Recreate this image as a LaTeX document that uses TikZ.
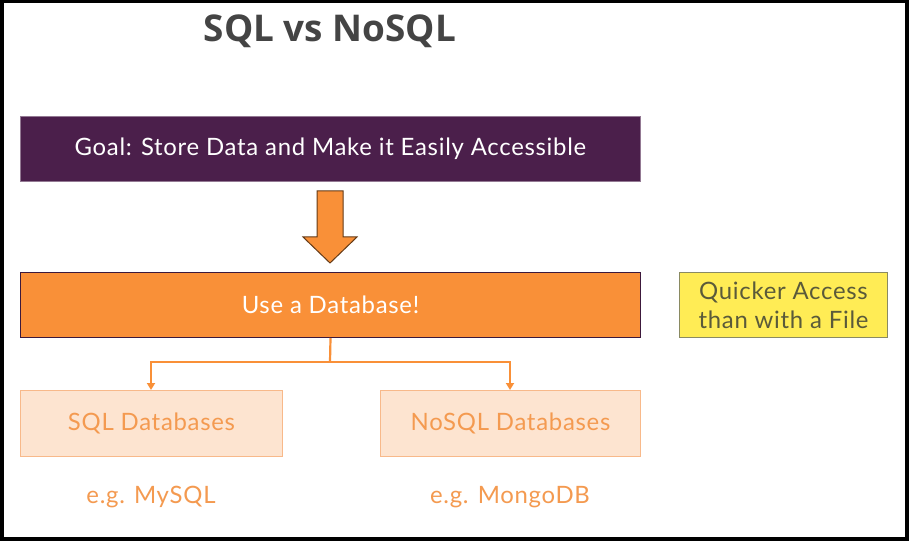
\documentclass[tikz,border=0pt]{standalone}
\usepackage{fontspec}
\usetikzlibrary{arrows.meta}
\setmainfont{Lato}[LetterSpace=3]
\newfontfamily\titlefont{Open Sans}
\definecolor{purp}{HTML}{4B1F4B}
\definecolor{orng}{HTML}{F99038}
\definecolor{lightfill}{HTML}{FDE4D0}
\definecolor{lightdraw}{HTML}{F8B98A}
\definecolor{lighttext}{HTML}{F49A50}
\definecolor{yel}{HTML}{FFEC55}
\definecolor{yeldraw}{HTML}{8A8A62}
\definecolor{yeltext}{HTML}{5A5A3A}
\definecolor{titlegray}{HTML}{444444}
\begin{document}
\begin{tikzpicture}[x=1bp,y=-1bp,
  box/.style={minimum width=#1, minimum height=65bp, inner sep=0pt, anchor=north west, font=\fontsize{24}{28}\selectfont},
  conn/.style={draw=orng, line width=2.2bp},
]
\useasboundingbox (0,0) rectangle (909,541);
\fill[black] (0,0) rectangle (909,541);
\fill[white] (3.5,3.5) rectangle (905,537);
\node[font=\titlefont\bfseries\fontsize{37}{42}\selectfont, text=titlegray] (title) at (330,31) {SQL vs NoSQL};
\node[box=620bp, fill=purp, draw=purp!60!white, line width=0.8bp, text=white] (goal) at (20,116) {Goal: Store Data and Make it Easily Accessible};
\node[box=620bp, fill=orng, draw=purp!80!black, line width=1bp, text=white] (db) at (20,272) {Use a Database!};
\node[box=208bp, fill=yel, draw=yeldraw, line width=1bp, text=yeltext, align=center, font=\fontsize{24}{29}\selectfont] (quick) at (679,272) {Quicker Access\\than with a File};
\node[box=262bp, minimum height=66bp, fill=lightfill, draw=lightdraw, line width=1bp, text=lighttext] (sql) at (20,390) {SQL Databases};
\node[box=260bp, minimum height=66bp, fill=lightfill, draw=lightdraw, line width=1bp, text=lighttext] (nosql) at (380,390) {NoSQL Databases};
\node[text=lighttext, font=\fontsize{24}{28}\selectfont] (mysql) at (151,497) {e.g. MySQL};
\node[text=lighttext, font=\fontsize{24}{28}\selectfont] (mongo) at (510,497) {e.g. MongoDB};
% block arrow
\filldraw[fill=orng, draw=black!60!orng, line width=1bp, line join=miter]
  (317,191) -- (343,191) -- (343,237) -- (357,237) -- (330,263) -- (303,237) -- (317,237) -- cycle;
% connectors
\coordinate (split) at (330,362);
\draw[conn] (db.south) -- (split);
\draw[conn, -{Triangle[length=7bp,width=8bp]}] (split) -| (sql.north -| mysql);
\draw[conn, -{Triangle[length=7bp,width=8bp]}] (split) -| (nosql.north -| mongo);
\end{tikzpicture}
\end{document}
